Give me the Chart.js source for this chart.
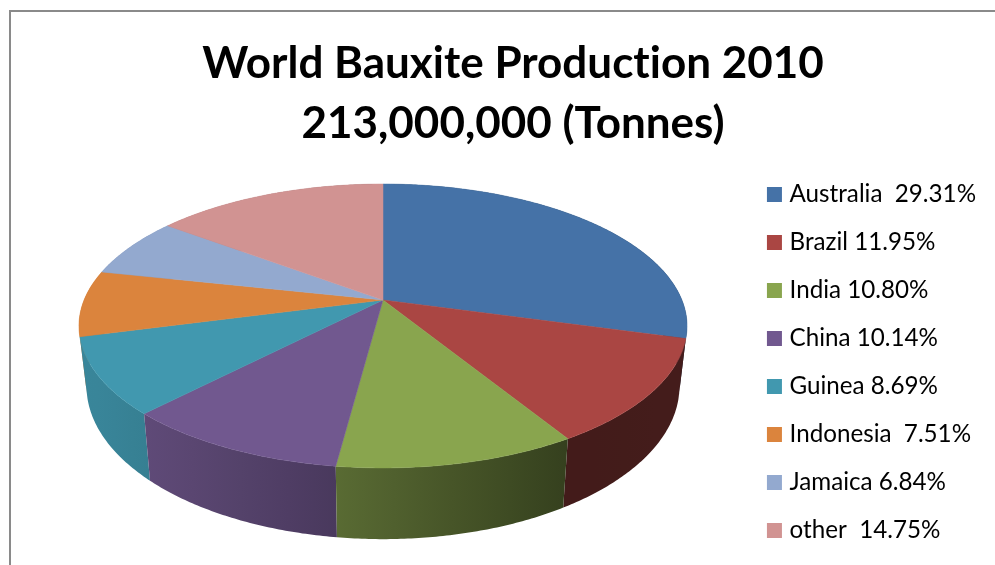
<!DOCTYPE html>
<html>
<head>
<meta charset="utf-8">
<style>
  html, body { margin: 0; padding: 0; background: #fff; overflow: hidden; }
  #wrap { position: relative; width: 995px; height: 565px; }
</style>
<script src="https://cdn.jsdelivr.net/npm/chart.js@4/dist/chart.umd.min.js"></script>
</head>
<body>
<div id="wrap"><canvas id="bauxite" width="995" height="565"></canvas></div>
<script>
// World bauxite production, 2010: share of the total by country.
const titleLines = ['World Bauxite Production 2010', '213,000,000 (Tonnes)'];
const categories = ['Australia  29.31%', 'Brazil 11.95%', 'India 10.80%', 'China 10.14%',
                    'Guinea 8.69%', 'Indonesia  7.51%', 'Jamaica 6.84%', 'other  14.75%'];
const shares = [29.31, 11.95, 10.80, 10.14, 8.69, 7.51, 6.84, 14.75];
const sliceColors = ['#4572A7', '#AA4643', '#89A54E', '#71588F',
                     '#4198AF', '#DB843D', '#93A9CF', '#D19392'];

// Perspective of the tilted disc: the top face and the bottom face of the pie
// are each a projective image of the unit circle.
const topFace = { cx: 383, cy: 300, a: 298.9, b: 137.2, p: 0.183 };
const bottomFace = { cx: 383, cy: 358, a: 291.5, b: 148, p: 0.183 };

function project(face, angle) {
  const u = Math.cos(angle), v = Math.sin(angle), w = 1 - face.p * v;
  return { x: face.cx + face.a * u / w, y: face.cy + face.b * v / w };
}

// Rim points of an arc element, sampled from the angles the library computed.
function rimAngles(arc) {
  const n = Math.max(2, Math.ceil((arc.endAngle - arc.startAngle) / 0.01));
  const out = [];
  for (let i = 0; i <= n; i++) out.push(arc.startAngle + (arc.endAngle - arc.startAngle) * i / n);
  return out;
}

// Side-wall lighting falls off from left to right across the pie.
const wallLight = [[85, 0.88], [145, 0.84], [335, 0.65], [565, 0.39], [690, 0.40]];
function lightAt(x) {
  if (x <= wallLight[0][0]) return wallLight[0][1];
  for (let i = 1; i < wallLight.length; i++) {
    if (x <= wallLight[i][0]) {
      const [x0, l0] = wallLight[i - 1], [x1, l1] = wallLight[i];
      return l0 + (l1 - l0) * (x - x0) / (x1 - x0);
    }
  }
  return wallLight[wallLight.length - 1][1];
}
function shade(hex, k) {
  const n = parseInt(hex.slice(1), 16);
  return `rgb(${Math.round((n >> 16) * k)},${Math.round(((n >> 8) & 255) * k)},${Math.round((n & 255) * k)})`;
}

function drawWall(ctx, arc, color) {
  const angles = rimAngles(arc);
  const upper = angles.map(a => project(topFace, a));
  const lower = angles.map(a => project(bottomFace, a));
  const xs = upper.concat(lower).map(pt => pt.x);
  const x0 = Math.min(...xs), x1 = Math.max(...xs);
  const grad = ctx.createLinearGradient(x0, 0, x1, 0);
  for (let i = 0; i <= 4; i++) grad.addColorStop(i / 4, shade(color, lightAt(x0 + (x1 - x0) * i / 4)));
  ctx.beginPath();
  upper.forEach((pt, i) => i ? ctx.lineTo(pt.x, pt.y) : ctx.moveTo(pt.x, pt.y));
  lower.reverse().forEach(pt => ctx.lineTo(pt.x, pt.y));
  ctx.closePath();
  ctx.fillStyle = grad;
  ctx.fill();
}

function drawTop(ctx, arc, color) {
  ctx.beginPath();
  ctx.moveTo(topFace.cx, topFace.cy);
  rimAngles(arc).forEach(a => {
    const pt = project(topFace, a);
    ctx.lineTo(pt.x, pt.y);
  });
  ctx.closePath();
  ctx.fillStyle = color;
  ctx.fill();
  ctx.strokeStyle = color;
  ctx.lineWidth = 0.5;
  ctx.stroke();
}

// Replaces the flat arc rendering with the extruded pie, and drops the legend
// column below the two-line title.
const tiltedPie = {
  id: 'tiltedPie',
  afterLayout(chart) {
    chart.legend.top = 158.5;
  },
  beforeDraw(chart) {
    const ctx = chart.ctx;
    ctx.letterSpacing = '0.001px';
    ctx.save();
    ctx.fillStyle = '#fff';
    ctx.fillRect(0, 0, chart.width, chart.height);
    ctx.strokeStyle = '#8a8a8a';
    ctx.lineWidth = 2;
    ctx.strokeRect(10, 11, chart.width + 40, chart.height + 40);
    ctx.restore();
  },
  beforeDatasetDraw(chart, args) {
    const ctx = chart.ctx;
    const arcs = chart.getDatasetMeta(args.index).data;
    const colors = chart.data.datasets[args.index].backgroundColor;
    const order = arcs.map((arc, i) => i).sort((i, j) =>
      Math.sin((arcs[i].startAngle + arcs[i].endAngle) / 2) -
      Math.sin((arcs[j].startAngle + arcs[j].endAngle) / 2));
    ctx.save();
    order.forEach(i => drawWall(ctx, arcs[i], colors[i]));
    arcs.forEach((arc, i) => drawTop(ctx, arc, colors[i]));
    ctx.restore();
    return false;
  }
};

new Chart(document.getElementById('bauxite'), {
  type: 'pie',
  data: {
    labels: categories,
    datasets: [{ data: shares, backgroundColor: sliceColors, borderWidth: 0 }]
  },
  plugins: [tiltedPie],
  options: {
    responsive: false,
    animation: false,
    layout: { padding: { left: 40, right: 9, top: 20, bottom: -20 } },
    plugins: {
      tooltip: { enabled: false },
      title: {
        display: true,
        text: titleLines,
        color: '#000',
        font: { family: 'Lato', size: 44, weight: 'bold', lineHeight: 1.364 },
        padding: { top: 13.5, bottom: 5.5 }
      },
      legend: {
        display: true,
        position: 'right',
        align: 'start',
        labels: {
          color: '#111',
          font: { family: 'Lato', size: 24.2 },
          boxWidth: 6,
          boxHeight: 6,
          padding: 23.8,
          generateLabels(chart) {
            return chart.data.labels.map((text, i) => ({
              text,
              fillStyle: sliceColors[i],
              strokeStyle: sliceColors[i],
              lineWidth: 9,
              index: i
            }));
          }
        }
      }
    }
  }
});
</script>
</body>
</html>
